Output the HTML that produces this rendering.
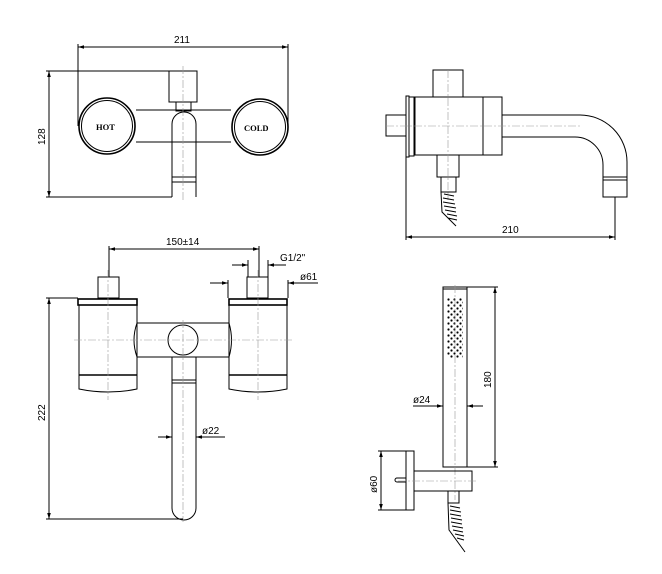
<!DOCTYPE html>
<html><head><meta charset="utf-8"><style>
html,body{margin:0;padding:0;background:#fff}
svg{display:block}
text{font-family:"Liberation Sans",sans-serif;font-size:10px;fill:#000}
.s{stroke:#000;fill:none;stroke-width:1}
.t{stroke:#000;fill:none;stroke-width:1.6}
.c{stroke:#999;fill:none;stroke-width:0.6;stroke-dasharray:8 2 2 2}
</style></head><body>
<svg width="662" height="574" viewBox="0 0 662 574" xmlns="http://www.w3.org/2000/svg">
<defs>
<marker id="a" viewBox="0 0 10 10" refX="10" refY="5" markerWidth="6" markerHeight="6" orient="auto-start-reverse"><path d="M0,2 L10,5 L0,8 z" fill="#000"/></marker>
<pattern id="dots" x="447" y="298" width="6" height="6" patternUnits="userSpaceOnUse"><circle cx="1.5" cy="1.5" r="1.1" fill="#000"/><circle cx="4.5" cy="4.5" r="1.1" fill="#000"/></pattern>
</defs>

<!-- ===== Top-left front view ===== -->
<line class="s" x1="78" y1="47" x2="288" y2="47" marker-start="url(#a)" marker-end="url(#a)"/>
<text x="174" y="43">211</text>
<line class="s" x1="78" y1="44" x2="78" y2="126"/>
<line class="s" x1="288" y1="44" x2="288" y2="128"/>
<line class="s" x1="49" y1="71" x2="49" y2="197" marker-start="url(#a)" marker-end="url(#a)"/>
<text transform="translate(45,145) rotate(-90)">128</text>
<line class="s" x1="46" y1="71" x2="170" y2="71"/>
<line class="s" x1="46" y1="197" x2="172" y2="197"/>
<rect class="s" x="169" y="71" width="28" height="31"/>
<rect class="s" x="176" y="102" width="15" height="9"/>
<line class="s" x1="136" y1="110" x2="231" y2="110"/>
<line class="s" x1="136" y1="142" x2="231" y2="142"/>
<path class="s" d="M172,197 V124 A12,12 0 0 1 196,124 V197"/>
<rect class="s" x="172" y="177" width="24" height="5"/>
<line class="c" x1="183" y1="66" x2="183" y2="200"/>
<circle fill="#fff" class="t" cx="107" cy="126" r="28"/>
<circle class="s" cx="107" cy="126" r="25.5"/>
<text x="96" y="130" style="font-family:'Liberation Serif',serif;font-weight:bold;font-size:8.5px">HOT</text>
<circle fill="#fff" class="t" cx="260" cy="127" r="28"/>
<circle class="s" cx="260" cy="127" r="25.5"/>
<text x="244" y="131" style="font-family:'Liberation Serif',serif;font-weight:bold;font-size:8.5px">COLD</text>

<!-- ===== Top-right side view ===== -->
<rect class="s" x="433" y="70" width="30" height="27"/>
<rect class="s" x="415" y="97" width="87" height="58"/>
<line class="s" x1="483" y1="97" x2="483" y2="155"/>
<rect class="s" x="406" y="96" width="3" height="61"/>
<rect class="s" x="409" y="97" width="5" height="59"/>
<rect class="s" x="386" y="115" width="20" height="21"/>
<path class="s" d="M502,115 H580 A47,47 0 0 1 627,162 V178"/>
<path class="s" d="M502,137 H575 A28,28 0 0 1 603,165 V178"/>
<rect class="s" x="603" y="177" width="24" height="3"/>
<rect class="s" x="603" y="180" width="24" height="17"/>
<line class="c" x1="386" y1="126" x2="580" y2="126"/>
<line class="c" x1="448" y1="70" x2="448" y2="200"/>
<path class="s" d="M437,155 V177 H459 V155"/>
<rect class="s" x="441" y="177" width="15" height="15"/>
<path class="s" d="M441,192 L442,212 L456,226 M444,194 L454,196 M443,198 L454,200 M443,202 L455,204 M444,206 L456,208 M445,210 L456,212 M447,214 L457,216 M448,218 L457,220"/>
<line class="s" x1="406" y1="157" x2="406" y2="240"/>
<line class="s" x1="615" y1="197" x2="615" y2="240"/>
<line class="s" x1="406" y1="237" x2="615" y2="237" marker-start="url(#a)" marker-end="url(#a)"/>
<text x="502" y="233">210</text>

<!-- ===== Bottom-left top view ===== -->
<line class="s" x1="109" y1="249" x2="259" y2="249" marker-start="url(#a)" marker-end="url(#a)"/>
<text x="166" y="245">150±14</text>
<line class="s" x1="109" y1="246" x2="109" y2="277"/>
<line class="s" x1="259" y1="246" x2="259" y2="277"/>
<line class="s" x1="232" y1="265" x2="248" y2="265" marker-end="url(#a)"/>
<line class="s" x1="286" y1="265" x2="268" y2="265" marker-end="url(#a)"/>
<line class="s" x1="248" y1="260" x2="248" y2="277"/>
<line class="s" x1="268" y1="260" x2="268" y2="277"/>
<text x="280" y="261">G1/2"</text>
<line class="s" x1="210" y1="283" x2="228" y2="283" marker-end="url(#a)"/>
<line class="s" x1="318" y1="283" x2="288" y2="283" marker-end="url(#a)"/>
<line class="s" x1="228" y1="280" x2="228" y2="298"/>
<line class="s" x1="288" y1="280" x2="288" y2="298"/>
<text x="300" y="280">ø61</text>
<rect class="s" x="98" y="277" width="21" height="21"/>
<rect class="s" x="247" y="277" width="21" height="21"/>
<rect class="t" x="78" y="299" width="59" height="6"/>
<rect class="t" x="229" y="299" width="58" height="6"/>
<path class="s" d="M79,305 V389 Q108,395 137,389 V305"/>
<path class="s" d="M229,305 V389 Q258,395 287,389 V305"/>
<line class="t" x1="79" y1="375" x2="137" y2="375"/>
<line class="t" x1="229" y1="375" x2="287" y2="375"/>
<path class="s" d="M137,323 H229 Q234,340 229,357 H137 Q131,340 137,323 Z"/>
<path class="s" d="M172,357 V508 A12,12 0 0 0 196,508 V357"/>
<rect class="s" x="172" y="380" width="24" height="3"/>
<circle class="s" cx="183" cy="340" r="15" fill="#fff"/>
<line class="c" x1="108" y1="270" x2="108" y2="400"/>
<line class="c" x1="258" y1="270" x2="258" y2="400"/>
<line class="c" x1="183" y1="320" x2="183" y2="522"/>
<line class="c" x1="74" y1="340" x2="292" y2="340"/>
<line class="s" x1="158" y1="437" x2="172" y2="437" marker-end="url(#a)"/>
<line class="s" x1="225" y1="437" x2="196" y2="437" marker-end="url(#a)"/>
<text x="202" y="434">ø22</text>
<line class="s" x1="49" y1="298" x2="49" y2="519" marker-start="url(#a)" marker-end="url(#a)"/>
<text transform="translate(45,421) rotate(-90)">222</text>
<line class="s" x1="46" y1="298" x2="78" y2="298"/>
<line class="s" x1="46" y1="519" x2="183" y2="519"/>

<!-- ===== Bottom-right hand shower ===== -->
<rect class="s" x="443" y="287" width="24" height="180"/>
<line class="s" x1="443" y1="289" x2="467" y2="289"/>
<rect x="447" y="298" width="16" height="60" fill="url(#dots)"/>
<line class="c" x1="455" y1="285" x2="455" y2="500"/>
<line class="s" x1="467" y1="287" x2="498" y2="287"/>
<line class="s" x1="467" y1="467" x2="498" y2="467"/>
<line class="s" x1="495" y1="287" x2="495" y2="467" marker-start="url(#a)" marker-end="url(#a)"/>
<text transform="translate(491,388) rotate(-90)">180</text>
<line class="s" x1="413" y1="406" x2="443" y2="406" marker-end="url(#a)"/>
<line class="s" x1="483" y1="406" x2="467" y2="406" marker-end="url(#a)"/>
<text x="413" y="403">ø24</text>
<rect class="s" x="406" y="451" width="8" height="59"/>
<rect class="s" x="414" y="471" width="58" height="20"/>
<line class="c" x1="398" y1="481" x2="476" y2="481"/>
<path class="s" d="M406,478 H397 A2,2 0 0 0 397,482 H406"/>
<line class="s" x1="378" y1="451" x2="406" y2="451"/>
<line class="s" x1="378" y1="510" x2="406" y2="510"/>
<line class="s" x1="381" y1="451" x2="381" y2="510" marker-start="url(#a)" marker-end="url(#a)"/>
<text transform="translate(377,493) rotate(-90)">ø60</text>
<rect class="s" x="448" y="491" width="11" height="12"/>
<path class="s" d="M448,503 L449,530 L465,552 M450,506 L460,508 M450,510 L461,512 M450,514 L461,516 M451,518 L462,520 M451,522 L462,524 M452,526 L463,528 M453,530 L463,532 M455,534 L464,536 M457,538 L464,540"/>
</svg>
</body></html>
